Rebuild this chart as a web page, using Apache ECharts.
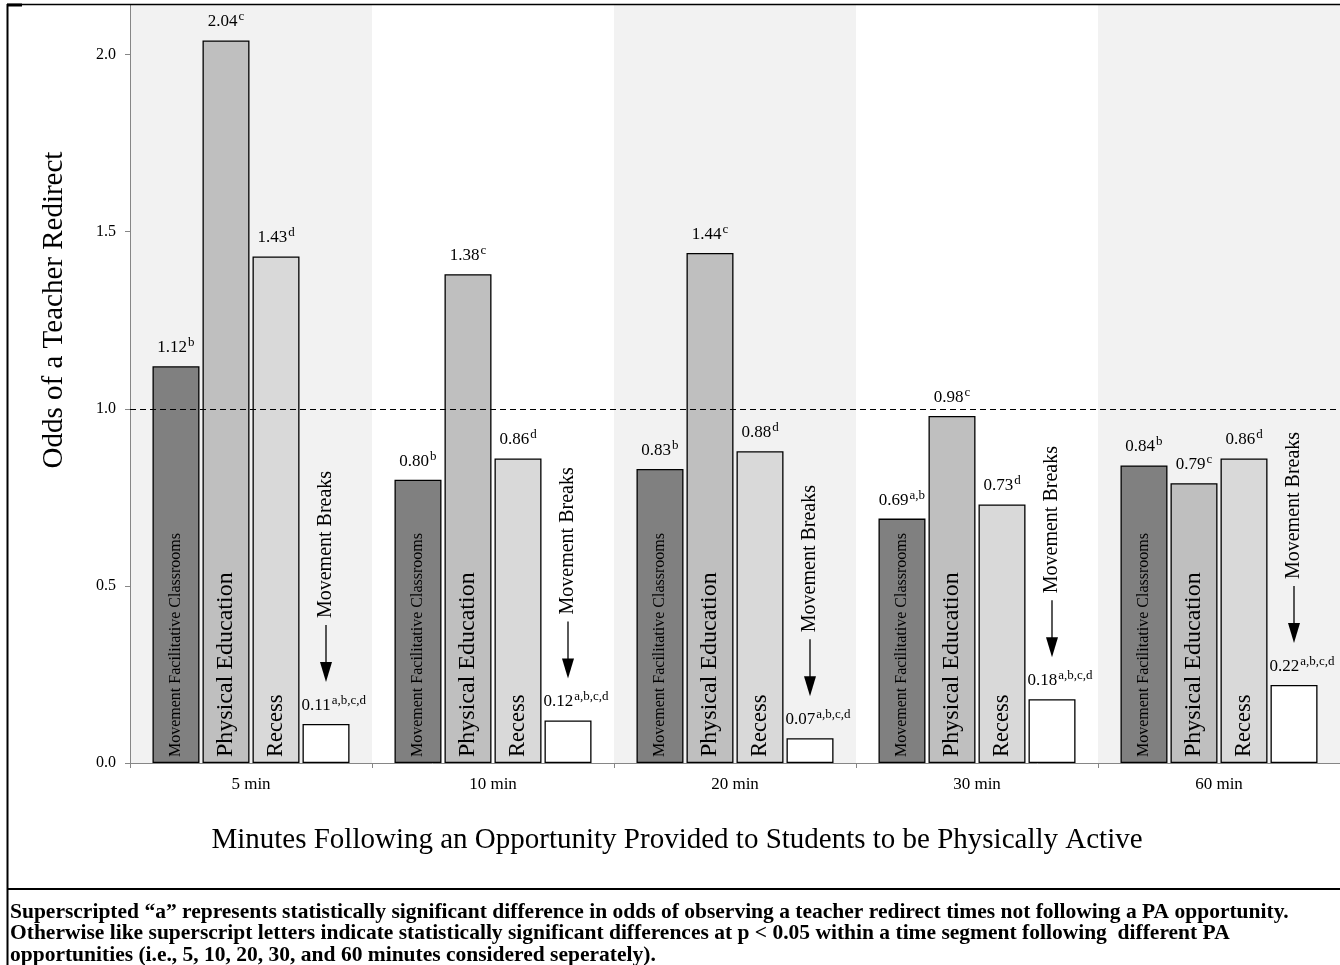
<!DOCTYPE html>
<html>
<head>
<meta charset="utf-8">
<script src="https://cdn.jsdelivr.net/npm/echarts@6/dist/echarts.min.js"></script>
<style>html,body{margin:0;padding:0;background:#fff;}#c{width:1340px;height:965px;}</style>
</head>
<body>
<div id="c"></div>
<script>
const categories = ['5 min', '10 min', '20 min', '30 min', '60 min'];
const seriesNames = ['Movement Facilitative Classrooms', 'Physical Education', 'Recess', 'Movement Breaks'];
const mfcValues = [1.12, 0.80, 0.83, 0.69, 0.84];
const peValues = [2.04, 1.38, 1.44, 0.98, 0.79];
const recessValues = [1.43, 0.86, 0.88, 0.73, 0.86];
const mbValues = [0.11, 0.12, 0.07, 0.18, 0.22];
const mfcSup = ['b', 'b', 'b', 'a,b', 'b'];
const peSup = ['c', 'c', 'c', 'c', 'c'];
const recessSup = ['d', 'd', 'd', 'd', 'd'];
const mbSup = ['a,b,c,d', 'a,b,c,d', 'a,b,c,d', 'a,b,c,d', 'a,b,c,d'];
const yTicks = [0, 0.5, 1.0, 1.5, 2.0];
const refLine = 1.0;
const yTitle = 'Odds of a Teacher Redirect';
const xTitle = 'Minutes Following an Opportunity Provided to Students to be Physically Active';
const noteLines = [
  'Superscripted \u201ca\u201d represents statistically significant difference in odds of observing a teacher redirect times not following a PA opportunity.',
  'Otherwise like superscript letters indicate statistically significant differences at p < 0.05 within a time segment following  different PA',
  'opportunities (i.e., 5, 10, 20, 30, and 60 minutes considered seperately).'
];

const FONT = '"Liberation Serif", "Times New Roman", serif';
const BAR_W = 47;
const BAR_GAP = 3;
const rich = {
  v: {fontFamily: FONT, fontSize: 17, color: '#000', lineHeight: 20, verticalAlign: 'bottom'},
  s: {fontFamily: FONT, fontSize: 13, color: '#000', lineHeight: 20, verticalAlign: 'top', padding: [0, 0, 0, 1]}
};

function barSeries(name, values, sups, color, isMB) {
  return {
    name: name,
    type: 'bar',
    barWidth: BAR_W,
    barGap: (BAR_GAP / BAR_W * 100).toFixed(1) + '%',
    itemStyle: {color: color, borderColor: '#000', borderWidth: 1.3},
    data: values.map((v, i) => ({value: v})),
    label: {
      show: true,
      position: 'top',
      distance: 10,
      align: isMB ? 'left' : 'center',
      offset: isMB ? [-(BAR_W / 2) - 1, 0] : [0, 0],
      formatter: p => '{v|' + p.value.toFixed(2) + '}{s|' + sups[p.dataIndex] + '}',
      rich: rich
    }
  };
}

const chart = echarts.init(document.getElementById('c'), null, {renderer: 'canvas'});

const series = [
  barSeries(seriesNames[0], mfcValues, mfcSup, '#808080', false),
  barSeries(seriesNames[1], peValues, peSup, '#bfbfbf', false),
  barSeries(seriesNames[2], recessValues, recessSup, '#d9d9d9', false),
  barSeries(seriesNames[3], mbValues, mbSup, '#ffffff', true)
];
series[0].markLine = {
  silent: true,
  symbol: 'none',
  label: {show: false},
  lineStyle: {color: '#000', type: [6, 4], width: 1},
  data: [{yAxis: refLine}]
};

// names inside bars + movement breaks arrow
series.push({
  type: 'custom',
  z: 5,
  silent: true,
  data: categories.map((c, i) => [i, mbValues[i]]),
  renderItem: function (params, api) {
    const idx = api.value(0);
    const base = api.coord([idx, 0]);
    const pitch = BAR_W + BAR_GAP;
    const cx = k => base[0] + (k - 1.5) * pitch;
    const children = [];
    const inside = [
      {k: 0, text: seriesNames[0], size: 16},
      {k: 1, text: seriesNames[1], size: 24},
      {k: 2, text: seriesNames[2], size: 22.5}
    ];
    inside.forEach(t => {
      children.push({
        type: 'text', x: cx(t.k), y: base[1] - 6, rotation: Math.PI / 2,
        style: {text: t.text, x: 0, y: 0, align: 'left', verticalAlign: 'middle',
          font: t.size + 'px ' + FONT, fill: '#000'}
      });
    });
    const top = api.coord([idx, api.value(1)]);
    const ax = cx(3);
    const tip = top[1] - 42;
    children.push({type: 'polygon', shape: {points: [[ax - 6, tip - 20], [ax + 6, tip - 20], [ax, tip]]}, style: {fill: '#000'}});
    children.push({type: 'line', shape: {x1: ax, y1: tip - 18, x2: ax, y2: tip - 57}, style: {stroke: '#000', lineWidth: 1.3}});
    children.push({
      type: 'text', x: ax, y: tip - 64, rotation: Math.PI / 2,
      style: {text: seriesNames[3], x: 0, y: 0, align: 'left', verticalAlign: 'middle',
        font: '20px ' + FONT, fill: '#000'}
    });
    return {type: 'group', children: children};
  }
});

const graphics = [
  {type: 'line', shape: {x1: 7, y1: 4.5, x2: 1340, y2: 4.5}, style: {stroke: '#000', lineWidth: 1.6}, z: 100},
  {type: 'line', shape: {x1: 7, y1: 5, x2: 22, y2: 5}, style: {stroke: '#000', lineWidth: 3}, z: 100},
  {type: 'line', shape: {x1: 7.5, y1: 4, x2: 7.5, y2: 965}, style: {stroke: '#000', lineWidth: 2}, z: 100},
  {type: 'line', shape: {x1: 7, y1: 889, x2: 1340, y2: 889}, style: {stroke: '#000', lineWidth: 2}, z: 100},
  {type: 'text', x: 54, y: 310, rotation: Math.PI / 2, z: 100,
    style: {text: yTitle, align: 'center', verticalAlign: 'middle', font: '29px ' + FONT, fill: '#000'}},
  {type: 'text', x: 677, y: 840, z: 100,
    style: {text: xTitle, align: 'center', verticalAlign: 'middle', font: '29px ' + FONT, fill: '#000'}}
];
noteLines.forEach((t, i) => {
  graphics.push({type: 'text', x: 10, y: 912 + i * 21.5, z: 100,
    style: {text: t, align: 'left', verticalAlign: 'middle', font: 'bold 21.5px ' + FONT, fill: '#000'}});
});

chart.setOption({
  animation: false,
  backgroundColor: '#fff',
  grid: {left: 130, right: 0, top: 5, bottom: 202, containLabel: false},
  xAxis: {
    type: 'category',
    data: categories,
    axisLine: {lineStyle: {color: '#868686', width: 1}},
    axisTick: {show: true, length: 5, lineStyle: {color: '#868686'}},
    axisLabel: {fontFamily: FONT, fontSize: 17, color: '#000', margin: 13},
    splitArea: {show: true, areaStyle: {color: ['#f2f2f2', '#ffffff']}},
    splitLine: {show: false}
  },
  yAxis: {
    type: 'value',
    min: 0,
    max: 2.14,
    interval: 0.5,
    axisLine: {show: true, lineStyle: {color: '#868686', width: 1}},
    axisTick: {show: true, length: 5, lineStyle: {color: '#868686'}},
    axisLabel: {fontFamily: FONT, fontSize: 16, color: '#000', margin: 14,
      showMaxLabel: false,
      formatter: v => yTicks.indexOf(v) >= 0 ? v.toFixed(1) : ''},
    splitLine: {show: false}
  },
  series: series,
  graphic: graphics
});
</script>
</body>
</html>
